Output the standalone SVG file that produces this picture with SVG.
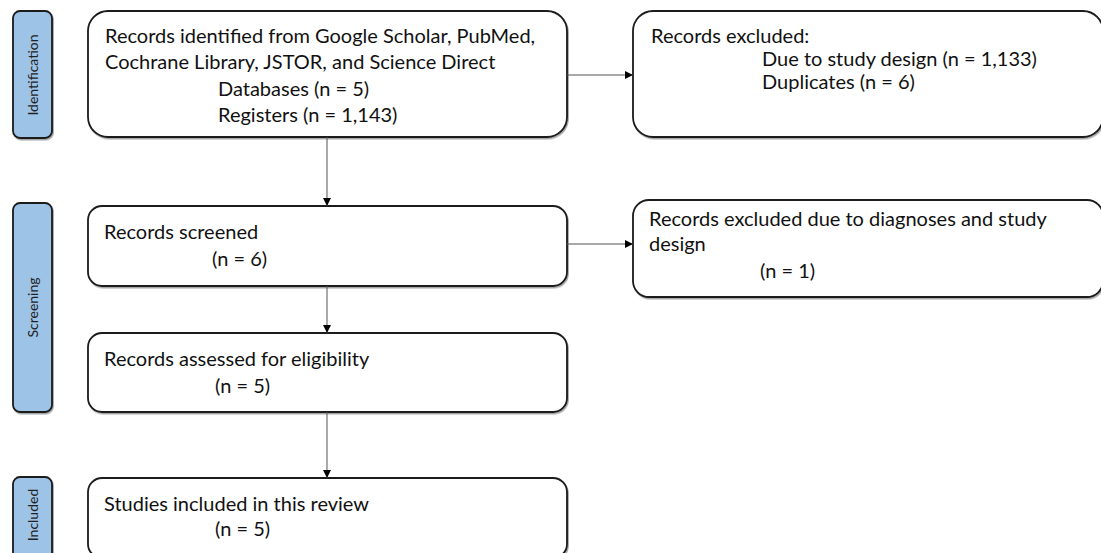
<svg xmlns="http://www.w3.org/2000/svg" width="1101" height="553" viewBox="0 0 1101 553">
<defs>
<filter id="sh" x="-5%" y="-5%" width="110%" height="115%">
<feDropShadow dx="1" dy="1.5" stdDeviation="0.7" flood-color="#000" flood-opacity="0.35"/>
</filter>
<marker id="ah" markerWidth="10" markerHeight="10" refX="8" refY="4.5" orient="auto" markerUnits="userSpaceOnUse">
<path d="M0,0.5 L8,4.5 L0,8.5 Z" fill="#000"/>
</marker>
</defs>
<style>
.box{fill:#fff;stroke:#1a1a1a;stroke-width:1.8;filter:url(#sh)}
.side{fill:#9dc3e6;stroke:#1a1a1a;stroke-width:1.8;filter:url(#sh)}
.t{font-family:Lato,"Liberation Sans",sans-serif;font-size:20px;fill:#111}
.s{font-family:Lato,"Liberation Sans",sans-serif;font-size:14px;fill:#222;text-anchor:middle}
.c{stroke:#555;stroke-width:1;fill:none;marker-end:url(#ah)}
</style>
<g id="stage-identification">
<rect class="side" x="13" y="11" width="39" height="127" rx="7"/>
<text class="s" transform="translate(37.5,75) rotate(-90)">Identification</text>
</g>
<g id="stage-screening">
<rect class="side" x="13" y="203" width="39" height="209" rx="7"/>
<text class="s" transform="translate(37.5,307.5) rotate(-90)">Screening</text>
</g>
<g id="stage-included">
<rect class="side" x="13" y="477" width="39" height="90" rx="7"/>
<text class="s" transform="translate(37.5,515) rotate(-90)">Included</text>
</g>
<g id="identified">
<rect class="box" x="88" y="11" width="479" height="126" rx="20"/>
<text class="t" x="105" y="43">Records identified from Google Scholar, PubMed,</text>
<text class="t" x="105" y="69">Cochrane Library, JSTOR, and Science Direct</text>
<text class="t" x="218" y="96">Databases (n = 5)</text>
<text class="t" x="218" y="122">Registers (n = 1,143)</text>
</g>
<g id="excluded1">
<rect class="box" x="633" y="11" width="470" height="126" rx="20"/>
<text class="t" x="651" y="43">Records excluded:</text>
<text class="t" x="762" y="66">Due to study design (n = 1,133)</text>
<text class="t" x="762" y="89">Duplicates (n = 6)</text>
</g>
<g id="screened">
<rect class="box" x="88" y="206" width="479" height="80" rx="14"/>
<text class="t" x="104" y="239">Records screened</text>
<text class="t" x="212" y="266">(n = 6)</text>
</g>
<g id="excluded2">
<rect class="box" x="633" y="200" width="470" height="97" rx="16"/>
<text class="t" x="649" y="226">Records excluded due to diagnoses and study</text>
<text class="t" x="649" y="251">design</text>
<text class="t" x="760" y="278">(n = 1)</text>
</g>
<g id="assessed">
<rect class="box" x="88" y="333" width="479" height="79" rx="14"/>
<text class="t" x="104" y="366">Records assessed for eligibility</text>
<text class="t" x="215" y="393">(n = 5)</text>
</g>
<g id="included">
<rect class="box" x="88" y="478" width="479" height="80" rx="14"/>
<text class="t" x="104" y="511">Studies included in this review</text>
<text class="t" x="215" y="536">(n = 5)</text>
</g>
<g id="connectors">
<line class="c" x1="567" y1="75" x2="633" y2="75"/>
<line class="c" x1="327" y1="137" x2="327" y2="206"/>
<line class="c" x1="567" y1="244" x2="633" y2="244"/>
<line class="c" x1="327" y1="286" x2="327" y2="333"/>
<line class="c" x1="327" y1="412" x2="327" y2="478"/>
</g>
</svg>
